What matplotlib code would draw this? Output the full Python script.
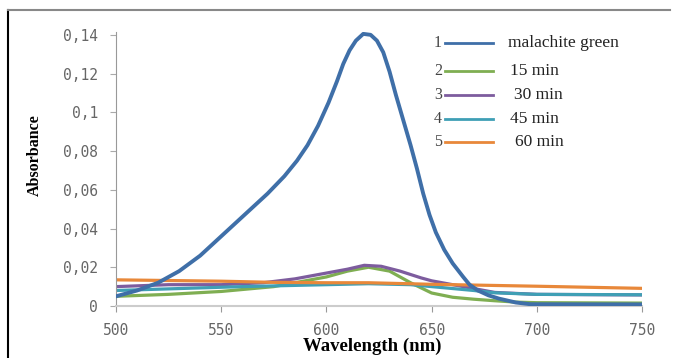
import matplotlib.pyplot as plt
from matplotlib.lines import Line2D

# Absorbance spectra
wl_mg = [500, 510, 520, 530, 540, 550, 557, 564, 572, 580, 586, 591, 596, 601, 605,
         608, 611, 614, 617.5, 621, 624, 627, 630, 633, 636.5, 640, 643, 646, 649,
         652, 656, 660, 665, 668, 672, 677, 682, 690, 697, 750]
abs_mg = [0.005, 0.008, 0.012, 0.018, 0.026, 0.036, 0.043, 0.050, 0.058, 0.067, 0.075,
          0.083, 0.093, 0.105, 0.116, 0.125, 0.132, 0.137, 0.1405, 0.140, 0.137, 0.131,
          0.121, 0.109, 0.096, 0.083, 0.071, 0.058, 0.047, 0.038, 0.029, 0.022, 0.015,
          0.011, 0.008, 0.0055, 0.0038, 0.0018, 0.0009, 0.0008]

wl_15 = [500, 525, 550, 575, 590, 600, 610, 620, 630, 640, 650, 660, 670, 680, 690, 700, 750]
abs_15 = [0.005, 0.006, 0.0075, 0.010, 0.013, 0.015, 0.018, 0.020, 0.018, 0.012, 0.0067,
          0.0045, 0.0035, 0.0027, 0.002, 0.0017, 0.0015]

wl_30 = [500, 525, 550, 570, 585, 600, 610, 618, 626, 635, 645, 650, 660, 670, 680, 700, 750]
abs_30 = [0.010, 0.011, 0.011, 0.012, 0.014, 0.017, 0.019, 0.021, 0.0205, 0.018, 0.0145,
          0.013, 0.011, 0.009, 0.007, 0.006, 0.0057]

wl_45 = [500, 530, 560, 600, 620, 640, 660, 670, 680, 700, 750]
abs_45 = [0.008, 0.009, 0.010, 0.011, 0.0115, 0.011, 0.009, 0.008, 0.0068, 0.006, 0.0058]

wl_60 = [500, 550, 575, 600, 620, 650, 700, 750]
abs_60 = [0.0135, 0.0128, 0.0122, 0.012, 0.012, 0.0112, 0.0102, 0.0091]

series = [
    (wl_mg, abs_mg, '#3f6fa8', 'malachite green'),
    (wl_15, abs_15, '#7fae52', '15 min'),
    (wl_30, abs_30, '#7d5c9e', '30 min'),
    (wl_45, abs_45, '#3f9fb5', '45 min'),
    (wl_60, abs_60, '#e8883a', '60 min'),
]
yticks = [0, 0.02, 0.04, 0.06, 0.08, 0.1, 0.12, 0.14]
ytick_labels = ['0', '0,02', '0,04', '0,06', '0,08', '0,1', '0,12', '0,14']
xticks = [500, 550, 600, 650, 700, 750]

fig = plt.figure(figsize=(6.73, 3.58), dpi=100)
ax = fig.add_axes([0.1724, 0.1453, 0.7816, 0.7655])

for i, (x, y, c, lab) in enumerate(series):
    ax.plot(x, y, color=c, linewidth=2.8 if i == 0 else 2.3, zorder=3 if i == 0 else 2)

ax.set_xlim(500, 750)
ax.set_ylim(0, 0.1415)
ax.set_xticks(xticks)
ax.set_xticklabels([str(t) for t in xticks], fontsize=10.5, color='#666666',
                   family='DejaVu Sans Mono')
ax.set_yticks(yticks)
ax.set_yticklabels(ytick_labels, fontsize=10.5, color='#666666',
                   family='DejaVu Sans Mono')
ax.tick_params(axis='y', length=4, color='#aaaaaa', direction='out', pad=9)
ax.tick_params(axis='x', length=4, color='#999999', direction='out', pad=8)
ax.spines['top'].set_visible(False)
ax.spines['right'].set_visible(False)
ax.spines['left'].set_color('#999999')
ax.spines['bottom'].set_color('#cccccc')
ax.spines['bottom'].set_linewidth(1.5)

ax.set_xlabel('Wavelength (nm)', fontsize=13.5, fontweight='bold',
              family='Liberation Serif')
ax.xaxis.set_label_coords(0.487, -0.115)
ax.set_ylabel('Absorbance', fontsize=11.5, family='Liberation Serif',
              fontweight='semibold')
ax.yaxis.set_label_coords(-0.139, 0.55)

# hand-drawn style legend with numbers
rows_y = [0.960, 0.858, 0.770, 0.682, 0.598]
label_dx = [0, 0.004, 0.012, 0.004, 0.014]
for i, (x, y, c, lab) in enumerate(series):
    ax.text(0.612, rows_y[i], str(i + 1), transform=ax.transAxes, fontsize=11.5,
            family='Liberation Serif', ha='center', va='center', color='#444444')
    ax.plot([0.625, 0.717], [rows_y[i], rows_y[i]], color=c, linewidth=2,
            transform=ax.transAxes)
    ax.text(0.745 + label_dx[i], rows_y[i], lab, transform=ax.transAxes,
            fontsize=12.5, family='Liberation Serif', va='center', color='#222222')

# figure border (left and top edges)
fig.add_artist(Line2D([0.0125, 0.0125], [0.0, 0.972], color='black', linewidth=1.5))
fig.add_artist(Line2D([0.0125, 0.995], [0.972, 0.972], color='#888888', linewidth=1.5))

fig.savefig('out.png', dpi=100)
